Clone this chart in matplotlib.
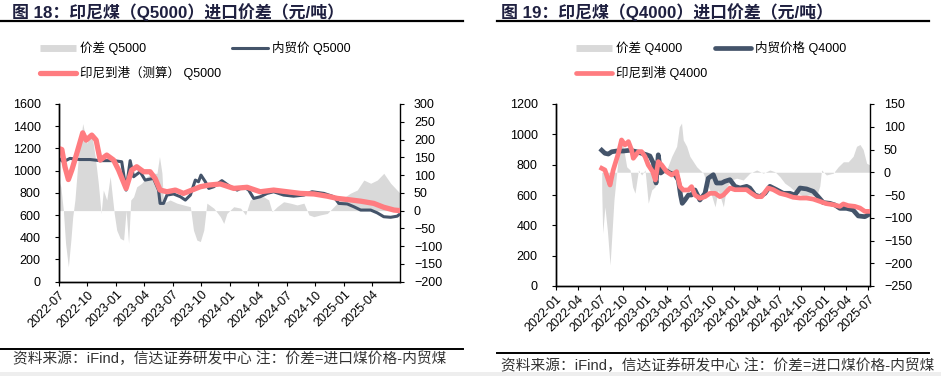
import matplotlib
matplotlib.use('Agg')
import matplotlib.pyplot as plt
import matplotlib.dates as mdates
from matplotlib.lines import Line2D
from matplotlib.patches import Rectangle
import pandas as pd

plt.rcParams['font.family'] = ['Liberation Sans', 'Noto Sans CJK SC', 'DejaVu Sans']

# ---------- 图18 Q5000 ----------
q5_dom_dates = ['2022-07-01', '2022-07-16', '2022-08-06', '2022-09-07', '2022-10-10', '2022-11-11',
                '2022-12-24', '2023-01-19', '2023-02-02', '2023-02-15', '2023-02-26', '2023-03-19',
                '2023-04-04', '2023-05-01', '2023-05-17', '2023-05-22', '2023-06-02', '2023-06-13',
                '2023-07-04', '2023-07-26', '2023-08-11', '2023-08-27', '2023-09-12', '2023-09-22',
                '2023-09-30', '2023-10-14', '2023-10-25', '2023-11-10', '2023-12-06', '2024-01-02',
                '2024-01-24', '2024-02-14', '2024-03-01', '2024-03-17', '2024-04-07', '2024-04-29',
                '2024-05-20', '2024-06-21', '2024-07-23', '2024-08-25', '2024-09-20', '2024-10-28',
                '2024-11-29', '2024-12-15', '2025-01-11', '2025-02-01', '2025-02-23', '2025-03-27',
                '2025-04-17', '2025-05-08', '2025-05-30', '2025-06-20', '2025-06-29']
q5_dom = [1110, 1080, 1110, 1100, 1100, 1090,
          1090, 1080, 825, 1090, 945, 990,
          915, 930, 825, 705, 705, 780,
          790, 765, 735, 780, 915, 900,
          960, 900, 840, 855, 910, 855,
          825, 855, 825, 750, 765, 795,
          810, 780, 770, 780, 810, 795,
          765, 705, 700, 675, 645, 645,
          620, 585, 580, 590, 610]

q5_imp_dates = ['2022-07-01', '2022-07-11', '2022-07-21', '2022-08-01', '2022-08-12', '2022-08-28',
                '2022-09-16', '2022-09-27', '2022-10-15', '2022-10-29', '2022-11-11', '2022-12-02',
                '2022-12-24', '2023-01-09', '2023-02-02', '2023-02-20', '2023-03-08', '2023-03-30',
                '2023-04-20', '2023-05-06', '2023-05-22', '2023-06-13', '2023-07-10', '2023-08-05',
                '2023-09-01', '2023-09-28', '2023-10-25', '2023-12-01', '2024-01-13', '2024-02-25',
                '2024-04-07', '2024-05-20', '2024-07-02', '2024-08-14', '2024-09-26', '2024-11-08',
                '2024-12-10', '2025-01-11', '2025-02-23', '2025-04-06', '2025-05-08', '2025-06-10',
                '2025-06-29']
q5_imp = [1200, 1190, 1035, 920, 1005, 1155,
          1340, 1275, 1320, 1275, 1095, 1140,
          1095, 1005, 840, 1005, 1035, 990,
          990, 930, 825, 810, 825, 795,
          825, 855, 870, 880, 840, 850,
          810, 825, 810, 795, 790, 770,
          750, 740, 725, 705, 670, 645,
          640]

q5_gap_dates = ['2022-07-01', '2022-07-08', '2022-07-16', '2022-07-23', '2022-08-01', '2022-08-09',
                '2022-08-15', '2022-08-22', '2022-09-02', '2022-09-16', '2022-09-29', '2022-10-15',
                '2022-10-26', '2022-11-05', '2022-11-14', '2022-11-21', '2022-12-02', '2022-12-13',
                '2022-12-26', '2023-01-03', '2023-01-14', '2023-01-25', '2023-02-02', '2023-02-10',
                '2023-02-17', '2023-02-26', '2023-03-08', '2023-03-24', '2023-04-10', '2023-05-01',
                '2023-05-12', '2023-05-20', '2023-05-28', '2023-06-02', '2023-06-23', '2023-07-15',
                '2023-08-05', '2023-08-27', '2023-09-06', '2023-09-17', '2023-09-28', '2023-10-09',
                '2023-10-19', '2023-11-10', '2023-12-01', '2023-12-12', '2023-12-22', '2024-01-13',
                '2024-02-04', '2024-02-20', '2024-03-06', '2024-03-28', '2024-04-18', '2024-05-04',
                '2024-05-15', '2024-05-31', '2024-06-21', '2024-07-13', '2024-08-03', '2024-08-25',
                '2024-09-10', '2024-09-26', '2024-10-17', '2024-11-08', '2024-11-29', '2024-12-20',
                '2025-01-21', '2025-02-12', '2025-03-05', '2025-03-27', '2025-04-17', '2025-05-08',
                '2025-05-30', '2025-06-29']
q5_gap = [86, 67, 0, -92, -158, -83,
          -17, 30, 152, 245, 190, 216,
          152, 77, -8, 58, 30, 96,
          -8, -55, -78, -83, 0, -92,
          30, 39, 67, 77, 96, 105,
          105, 152, 105, 21, 30, 21,
          16, 11, -55, -83, -87, -55,
          21, 7, -17, -36, -8, 11,
          7, -12, 30, 39, 39, 30,
          -3, 11, 25, 21, 16, 21,
          -12, -17, -12, -8, 11, 30,
          49, 58, 86, 77, 86, 105,
          77, 49]

# ---------- 图19 Q4000 ----------
q4_dom_dates = ['2022-07-08', '2022-07-21', '2022-08-04', '2022-08-18', '2022-09-07', '2022-10-04',
                '2022-11-01', '2022-11-28', '2022-12-18', '2023-01-08', '2023-01-21', '2023-02-04',
                '2023-02-15', '2023-02-24', '2023-03-06', '2023-03-23', '2023-04-13', '2023-05-03',
                '2023-05-17', '2023-05-26', '2023-06-02', '2023-06-13', '2023-06-27', '2023-07-10',
                '2023-07-24', '2023-08-13', '2023-09-03', '2023-09-16', '2023-10-07', '2023-10-20',
                '2023-11-10', '2023-11-23', '2023-12-14', '2024-01-03', '2024-01-24', '2024-02-20',
                '2024-03-04', '2024-03-25', '2024-04-14', '2024-05-05', '2024-05-25', '2024-06-21',
                '2024-07-19', '2024-08-15', '2024-09-04', '2024-09-25', '2024-10-22', '2024-11-18',
                '2024-12-08', '2024-12-29', '2025-01-25', '2025-02-15', '2025-03-07', '2025-04-03',
                '2025-04-30', '2025-05-21', '2025-06-17', '2025-07-07']
q4_dom = [895, 875, 870, 885, 890, 890,
          895, 885, 875, 865, 857, 810,
          679, 865, 745, 765, 745, 734,
          699, 600, 545, 567, 600, 600,
          633, 567, 611, 710, 734, 679,
          679, 690, 701, 657, 646, 657,
          646, 600, 589, 611, 657, 635,
          611, 611, 600, 646, 640, 624,
          589, 550, 545, 534, 512, 512,
          501, 462, 457, 475]

q4_imp_dates = ['2022-07-08', '2022-07-21', '2022-08-04', '2022-08-11', '2022-08-24', '2022-09-14',
                '2022-09-27', '2022-10-11', '2022-10-25', '2022-11-07', '2022-11-14', '2022-12-05',
                '2022-12-18', '2023-01-01', '2023-01-14', '2023-02-01', '2023-02-12', '2023-02-24',
                '2023-03-10', '2023-03-30', '2023-04-20', '2023-05-10', '2023-05-24', '2023-06-06',
                '2023-06-27', '2023-07-10', '2023-07-24', '2023-08-13', '2023-09-03', '2023-09-23',
                '2023-10-14', '2023-11-03', '2023-11-17', '2023-12-14', '2024-01-03', '2024-01-24',
                '2024-02-20', '2024-03-11', '2024-04-01', '2024-04-21', '2024-05-18', '2024-06-08',
                '2024-07-05', '2024-08-01', '2024-08-28', '2024-09-25', '2024-10-22', '2024-11-18',
                '2024-12-15', '2025-01-11', '2025-02-08', '2025-03-07', '2025-03-21', '2025-04-10',
                '2025-05-07', '2025-05-28', '2025-06-17', '2025-07-07']
q4_imp = [776, 765, 699, 666, 765, 875,
          963, 930, 952, 897, 842, 886,
          886, 853, 798, 754, 699, 820,
          798, 754, 732, 754, 655, 633,
          633, 655, 600, 578, 589, 611,
          611, 589, 600, 646, 635, 635,
          635, 611, 589, 589, 646, 635,
          611, 600, 585, 580, 580, 573,
          558, 543, 536, 525, 541, 530,
          525, 514, 492, 492]

q4_gap_dates = ['2022-07-08', '2022-07-12', '2022-07-21', '2022-07-31', '2022-08-11', '2022-08-18',
                '2022-08-27', '2022-09-07', '2022-09-14', '2022-09-23', '2022-10-04', '2022-10-18',
                '2022-11-01', '2022-11-11', '2022-11-21', '2022-12-05', '2022-12-18', '2023-01-01',
                '2023-01-14', '2023-01-28', '2023-02-11', '2023-02-20', '2023-03-03', '2023-03-17',
                '2023-03-30', '2023-04-20', '2023-05-10', '2023-05-21', '2023-05-30', '2023-06-06',
                '2023-06-20', '2023-07-03', '2023-07-31', '2023-08-27', '2023-09-10', '2023-09-23',
                '2023-10-14', '2023-10-27', '2023-11-17', '2023-11-30', '2023-12-21', '2024-01-10',
                '2024-02-06', '2024-03-04', '2024-04-01', '2024-04-28', '2024-05-25', '2024-06-15',
                '2024-07-05', '2024-07-25', '2024-08-15', '2024-09-11', '2024-10-08', '2024-11-04',
                '2024-12-02', '2024-12-15', '2024-12-22', '2025-01-11', '2025-02-08', '2025-02-28',
                '2025-03-21', '2025-04-10', '2025-04-30', '2025-05-14', '2025-05-28', '2025-06-10',
                '2025-06-24', '2025-07-07']
q4_gap = [-39, -134, -76, -127, -204, -142,
          -61, -2, 35, 64, 57, 12,
          5, -32, -46, 5, -6, 5,
          -68, -39, -32, 42, 5, 1,
          5, 35, 57, 100, 108, 71,
          57, 35, 12, -2, -24, -39,
          -76, -39, -76, -32, -17, -13,
          -17, -2, 5, -2, 5, 1,
          -10, -24, -32, -45, -52, -50,
          -52, -30, 5, -6, -2, 12,
          23, 23, 35, 57, 61, 50,
          20, 16]

W, H = 941, 376
fig = plt.figure(figsize=(W / 100, H / 100), dpi=100)


def fx(px):
    return px / W


def fy(py):
    return 1 - py / H


dark = '#44546A'
red = '#FF7C80'
grey = '#D9D9D9'


def panel(rect, dom_d, dom_v, imp_d, imp_v, gap_d, gap_v, xlim, yl, yr, lw_dark, lw_red):
    ax = fig.add_axes(rect)
    ax2 = ax.twinx()
    ax2.fill_between(pd.to_datetime(gap_d), 0, gap_v, color=grey, lw=0)
    ax.plot(pd.to_datetime(dom_d), dom_v, color=dark, lw=lw_dark, solid_joinstyle='round')
    ax.plot(pd.to_datetime(imp_d), imp_v, color=red, lw=lw_red, solid_joinstyle='round')
    ax.set_zorder(ax2.get_zorder() + 1)
    ax.patch.set_visible(False)
    ax.set_xlim(pd.Timestamp(xlim[0]), pd.Timestamp(xlim[1]))
    ax.set_ylim(yl[0], yl[1])
    ax.set_yticks(range(yl[0], yl[1] + 1, 200))
    ax2.set_ylim(yr[0], yr[1])
    ax2.set_yticks(range(yr[0], yr[1] + 1, 50))
    ax.xaxis.set_major_locator(mdates.MonthLocator(bymonth=(1, 4, 7, 10)))
    ax.xaxis.set_major_formatter(mdates.DateFormatter('%Y-%m'))
    for a in (ax, ax2):
        a.spines['top'].set_visible(False)
        for s in a.spines.values():
            s.set_linewidth(1.0)
    ax.spines['right'].set_visible(False)
    ax.tick_params(axis='y', direction='out', length=3, labelsize=9, pad=10)
    ax.tick_params(axis='x', direction='out', length=3, labelsize=9, pad=2)
    ax2.tick_params(axis='y', direction='out', length=3, labelsize=9, pad=7)
    for lab in ax.get_xticklabels():
        lab.set_rotation(45)
        lab.set_ha('right')
        lab.set_rotation_mode('anchor')
    return ax, ax2


panel([fx(58.7), fy(281.7), fx(400 - 58.7), (281.7 - 104) / H],
      q5_dom_dates, q5_dom, q5_imp_dates, q5_imp, q5_gap_dates, q5_gap,
      ('2022-07-01', '2025-06-29'), (0, 1600), (-200, 300), 2.2, 3.8)

panel([fx(555.7), fy(286), fx(870 - 555.7), (286 - 104) / H],
      q4_dom_dates, q4_dom, q4_imp_dates, q4_imp, q4_gap_dates, q4_gap,
      ('2022-01-01', '2025-07-08'), (0, 1200), (-250, 150), 3.4, 3.4)

# titles and rules
title_col = '#1F2040'
fig.text(fx(12), fy(12), '图 18：印尼煤（Q5000）进口价差（元/吨）', fontsize=12.2, fontweight='bold',
         color=title_col, va='center', ha='left')
fig.text(fx(501), fy(12), '图 19：印尼煤（Q4000）进口价差（元/吨）', fontsize=12.2, fontweight='bold',
         color=title_col, va='center', ha='left')
fig.add_artist(Line2D([fx(0), fx(463)], [fy(21), fy(21)], color='black', lw=1.6))
fig.add_artist(Line2D([fx(497), fx(929)], [fy(21), fy(21)], color='black', lw=1.6))
fig.add_artist(Line2D([fx(0), fx(463)], [fy(349), fy(349)], color='black', lw=1.4))
fig.add_artist(Line2D([fx(497), fx(929)], [fy(353), fy(353)], color='black', lw=1.4))


# legends drawn by hand
def leg(x0, y, color, lw, text):
    fig.add_artist(Line2D([fx(x0), fx(x0 + 36)], [fy(y), fy(y)], color=color, lw=lw,
                          solid_capstyle='butt' if color == grey else 'round'))
    fig.text(fx(x0 + 40), fy(y), text, fontsize=9, va='center', ha='left')


leg(40, 48, grey, 5, '价差 Q5000')
leg(232, 48, dark, 2.2, '内贸价 Q5000')
leg(40, 73, red, 3.8, '印尼到港（测算） Q5000')
leg(576, 48, grey, 5, '价差 Q4000')
leg(715, 48, dark, 3.4, '内贸价格 Q4000')
leg(576, 73, red, 3.4, '印尼到港 Q4000')

src = '资料来源：iFind，信达证券研发中心 注：价差=进口煤价格-内贸煤'
fig.text(fx(13), fy(359), src, fontsize=10.6, color='#333333', va='center', ha='left')
fig.text(fx(501), fy(366), src, fontsize=10.6, color='#333333', va='center', ha='left')

fig.add_artist(Rectangle((0, 0), 1, 4 / H, transform=fig.transFigure, color='#EEEEEE', lw=0))

fig.savefig('out.png', dpi=100)
